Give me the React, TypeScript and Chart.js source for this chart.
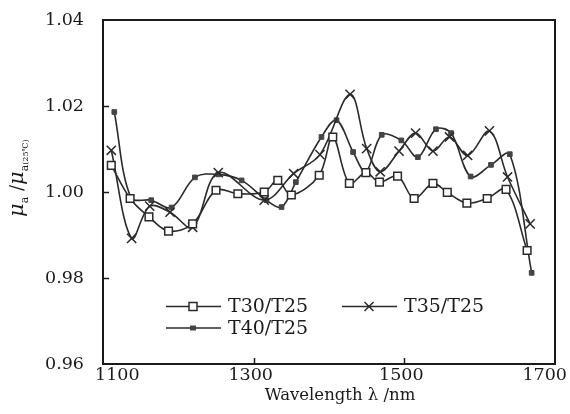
import React, { useEffect, useRef } from 'react';
import { Chart, registerables } from 'chart.js';

Chart.register(...registerables);

// ---- data ----
const seriesLabels = ['T30/T25', 'T35/T25', 'T40/T25'];

const t30Wavelength = [1111, 1136, 1161, 1187, 1219, 1250, 1279, 1314, 1332, 1350, 1387, 1405, 1427, 1449, 1467, 1491, 1513, 1538, 1557, 1583, 1610, 1635, 1663];
const t30Ratio = [1.0062, 0.9985, 0.9942, 0.9909, 0.9926, 1.0004, 0.9996, 1.0, 1.0027, 0.9993, 1.0039, 1.0128, 1.002, 1.0045, 1.0023, 1.0037, 0.9985, 1.002, 0.9999, 0.9974, 0.9985, 1.0006, 0.9864];

const t35Wavelength = [1111, 1138, 1162, 1189, 1219, 1253, 1314, 1353, 1388, 1428, 1450, 1468, 1493, 1515, 1538, 1560, 1584, 1613, 1637, 1667];
const t35Ratio = [1.0097, 0.9892, 0.9967, 0.9953, 0.9918, 1.0045, 0.9981, 1.0043, 1.0087, 1.0227, 1.0101, 1.0047, 1.0095, 1.0137, 1.0095, 1.0128, 1.0085, 1.0142, 1.0035, 0.9926];

const t40Wavelength = [1115, 1137, 1164, 1191, 1222, 1253, 1284, 1317, 1337, 1356, 1390, 1410, 1432, 1449, 1470, 1496, 1518, 1542, 1562, 1588, 1615, 1640, 1669];
const t40Ratio = [1.0186, 0.9987, 0.9981, 0.9964, 1.0034, 1.0041, 1.0027, 0.9981, 0.9965, 1.0023, 1.0128, 1.0167, 1.0093, 1.0047, 1.0133, 1.012, 1.0081, 1.0146, 1.0137, 1.0036, 1.0063, 1.0088, 0.9812];

const xTickValues = [1100, 1300, 1500, 1700];
const yTickValues = [0.96, 0.98, 1.0, 1.02, 1.04];
const xTitle = 'Wavelength λ /nm';

const FONT = '"DejaVu Serif", "Liberation Serif", serif';
const INK = '#1a1a1a';
const LINE = '#2a2a2a';

const toPoints = (xs: number[], ys: number[]) => xs.map((x, i) => ({ x, y: ys[i] }));

const framePlugin = {
  id: 'frame',
  afterDatasetsDraw(chart: any) {
    const { ctx, chartArea } = chart;
    const { left, right, top, bottom } = chartArea;
    ctx.save();
    ctx.strokeStyle = INK;
    ctx.lineWidth = 2;
    ctx.strokeRect(left, top, right - left, bottom - top);
    ctx.lineWidth = 1.5;
    const xs = chart.scales.x;
    const ys = chart.scales.y;
    const tl = 6;
    xTickValues.forEach((v) => {
      if (v === xs.min || v === xs.max) return;
      const px = Math.round(xs.getPixelForValue(v)) + 0.5;
      ctx.beginPath();
      ctx.moveTo(px, bottom);
      ctx.lineTo(px, bottom - tl);
      ctx.stroke();
    });
    yTickValues.forEach((v) => {
      if (Math.abs(v - ys.min) < 1e-9 || Math.abs(v - ys.max) < 1e-9) return;
      const py = Math.round(ys.getPixelForValue(v)) + 0.5;
      ctx.beginPath();
      ctx.moveTo(left, py);
      ctx.lineTo(left + tl, py);
      ctx.stroke();
    });

    // x tick labels (kept inside the frame's reach like the original)
    ctx.fillStyle = INK;
    ctx.font = `17.5px ${FONT}`;
    ctx.textBaseline = 'middle';
    ctx.textAlign = 'center';
    xTickValues.forEach((v) => {
      const t = String(v);
      const w = ctx.measureText(t).width;
      let cx = xs.getPixelForValue(v) - 3;
      cx = Math.max(cx, left - 8 + w / 2);
      cx = Math.min(cx, right + 12 - w / 2);
      ctx.fillText(t, cx, bottom + 11);
    });

    // x axis title
    ctx.font = `16.5px ${FONT}`;
    ctx.fillText(xTitle, 340, 396);
    ctx.restore();
  },
};

function drawMarker(ctx: CanvasRenderingContext2D, style: string, x: number, y: number) {
  ctx.save();
  ctx.strokeStyle = LINE;
  ctx.lineWidth = 1.5;
  if (style === 'openRect') {
    ctx.fillStyle = '#fff';
    ctx.fillRect(x - 4, y - 4, 8, 8);
    ctx.strokeRect(x - 4, y - 4, 8, 8);
  } else if (style === 'cross') {
    ctx.beginPath();
    ctx.moveTo(x - 4.5, y - 4.5);
    ctx.lineTo(x + 4.5, y + 4.5);
    ctx.moveTo(x + 4.5, y - 4.5);
    ctx.lineTo(x - 4.5, y + 4.5);
    ctx.stroke();
  } else {
    ctx.fillStyle = '#444';
    ctx.fillRect(x - 3, y - 2.5, 6, 5);
  }
  ctx.restore();
}

const legendPlugin = {
  id: 'innerLegend',
  afterDraw(chart: any) {
    const { ctx, chartArea } = chart;
    const { left, bottom } = chartArea;
    const items = [
      { label: chart.data.datasets[0].label, style: 'openRect', x: left + 63, y: bottom - 57.5 },
      { label: chart.data.datasets[1].label, style: 'cross', x: left + 239, y: bottom - 57.5 },
      { label: chart.data.datasets[2].label, style: 'smallRect', x: left + 63, y: bottom - 36 },
    ];
    ctx.save();
    items.forEach((it) => {
      ctx.strokeStyle = LINE;
      ctx.lineWidth = 1.6;
      ctx.beginPath();
      ctx.moveTo(it.x, it.y);
      ctx.lineTo(it.x + 55, it.y);
      ctx.stroke();
      drawMarker(ctx, it.style, it.x + 27, it.y);
      ctx.fillStyle = INK;
      ctx.font = `19px ${FONT}`;
      ctx.textBaseline = 'middle';
      ctx.textAlign = 'left';
      ctx.fillText(it.label, it.x + 62, it.y + 1);
    });
    ctx.restore();
  },
};

const yTitlePlugin = {
  id: 'yTitle',
  afterDraw(chart: any) {
    const { ctx } = chart;
    ctx.save();
    ctx.translate(23, 217);
    ctx.rotate(-Math.PI / 2);
    ctx.fillStyle = INK;
    ctx.textBaseline = 'alphabetic';
    ctx.textAlign = 'left';
    let x = 0;
    const put = (t: string, font: string, dy: number) => {
      ctx.font = font;
      ctx.fillText(t, x, dy);
      x += ctx.measureText(t).width;
    };
    put('μ', `italic 21px ${FONT}`, 0);
    put('a', `11px ${FONT}`, 5);
    put(' /', `18px ${FONT}`, 0);
    put('μ', `italic 21px ${FONT}`, 0);
    put('a', `11px ${FONT}`, 5);
    put('(25℃)', `8px ${FONT}`, 5);
    ctx.restore();
  },
};

export default function App() {
  const canvasRef = useRef<HTMLCanvasElement | null>(null);

  useEffect(() => {
    if (!canvasRef.current) return;
    const chart = new Chart(canvasRef.current, {
      type: 'line',
      data: {
        datasets: [
          {
            label: seriesLabels[0],
            data: toPoints(t30Wavelength, t30Ratio),
            borderColor: LINE,
            borderWidth: 1.6,
            pointStyle: 'rect',
            pointRadius: 5.4,
            pointBackgroundColor: '#fff',
            pointBorderColor: LINE,
            pointBorderWidth: 1.5,
            tension: 0.35,
            fill: false,
          },
          {
            label: seriesLabels[1],
            data: toPoints(t35Wavelength, t35Ratio),
            borderColor: LINE,
            borderWidth: 1.6,
            pointStyle: 'crossRot',
            pointRadius: 6.5,
            pointBorderColor: LINE,
            pointBorderWidth: 1.5,
            tension: 0.35,
            fill: false,
          },
          {
            label: seriesLabels[2],
            data: toPoints(t40Wavelength, t40Ratio),
            borderColor: LINE,
            borderWidth: 1.6,
            pointStyle: 'rect',
            pointRadius: 3.3,
            pointBackgroundColor: '#444',
            pointBorderColor: '#444',
            pointBorderWidth: 1,
            tension: 0.35,
            fill: false,
          },
        ],
      },
      options: {
        animation: false,
        responsive: true,
        maintainAspectRatio: false,
        layout: { padding: { left: 0, right: 15, top: 20, bottom: 0 } },
        plugins: {
          legend: { display: false },
          tooltip: { enabled: false },
        },
        scales: {
          x: {
            type: 'linear',
            min: 1100,
            max: 1700,
            afterBuildTicks: (axis: any) => {
              axis.ticks = xTickValues.map((v) => ({ value: v }));
            },
            afterFit: (axis: any) => {
              axis.height = 50;
              axis.paddingLeft = 0;
              axis.paddingRight = 0;
            },
            grid: { display: false, drawTicks: false },
            border: { display: false },
            ticks: { display: false },
          },
          y: {
            type: 'linear',
            min: 0.96,
            max: 1.04,
            afterBuildTicks: (axis: any) => {
              axis.ticks = yTickValues.map((v) => ({ value: v }));
            },
            afterFit: (axis: any) => {
              axis.width = 103;
              axis.paddingTop = 0;
              axis.paddingBottom = 0;
            },
            grid: { display: false, drawTicks: false },
            border: { display: false },
            ticks: {
              color: INK,
              font: { family: FONT, size: 17.5 },
              padding: 19,
              callback: (v: any) => Number(v).toFixed(2),
            },
          },
        },
      },
      plugins: [framePlugin, legendPlugin, yTitlePlugin],
    });
    return () => chart.destroy();
  }, []);

  return (
    <div style={{ position: 'fixed', left: 0, top: 0, width: 570, height: 414, background: '#fff' }}>
      <canvas ref={canvasRef} />
    </div>
  );
}
